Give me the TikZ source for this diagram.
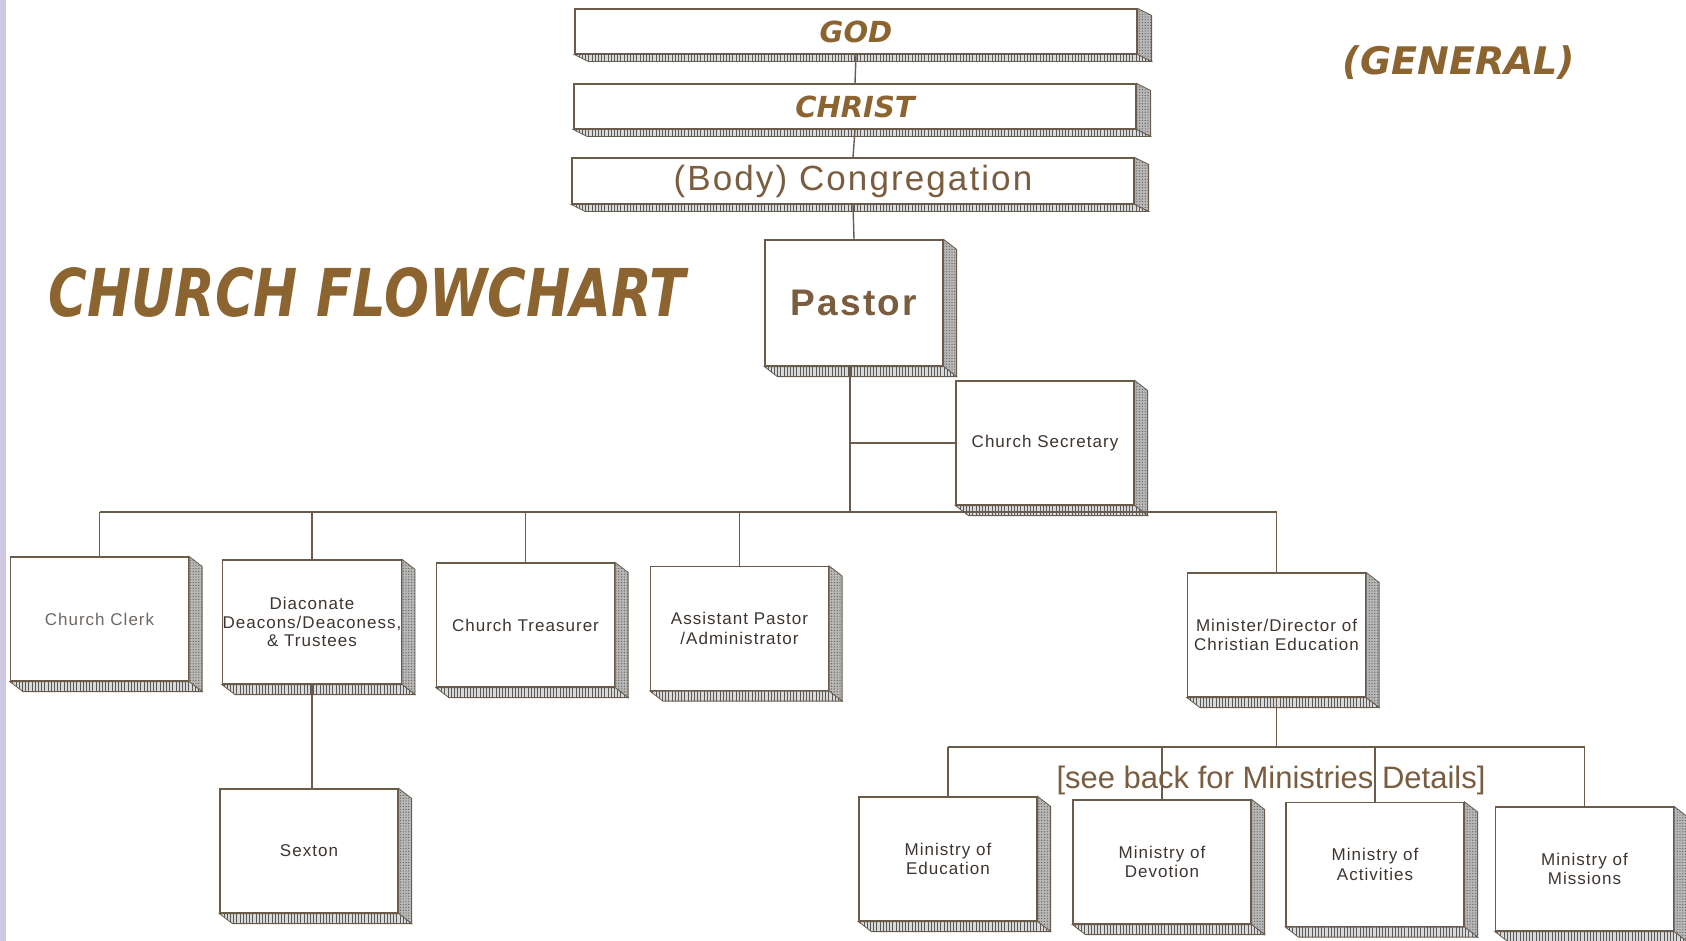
\documentclass[tikz,border=0pt]{standalone}
\usepackage{fontspec}
\setmainfont{Liberation Sans}
\newfontfamily\boxfont{Liberation Sans}[LetterSpace=6]
\newfontfamily\titlefont{DejaVu Sans}
\usetikzlibrary{calc,patterns.meta}

\definecolor{linecol}{HTML}{6B5B4A}
\definecolor{titlebrown}{HTML}{8C6430}
\definecolor{boxtext}{HTML}{3E3530}
\definecolor{congtext}{HTML}{7A5C3E}
\definecolor{stripcol}{HTML}{CEC8E0}

\tikzset{
	frontbox/.style={draw=linecol,fill=white,line width=0.6pt,inner sep=0pt,align=center,text=boxtext,font=\boxfont\fontsize{8.5}{9.7}\selectfont},
	smallbox/.style={frontbox,minimum width=89pt,minimum height=62pt},
	widebox/.style={frontbox,minimum width=281pt,minimum height=22.5pt},
	sideface/.style={draw=linecol,line width=0.4pt,fill=black!28,postaction={pattern={Dots[distance=1.4pt,radius=0.35pt]},pattern color=black!60}},
	bottomface/.style={draw=linecol,line width=0.4pt,fill=black!15,postaction={pattern={Lines[angle=90,distance=1.6pt,line width=0.45pt]},pattern color=black!65}},
	conn/.style={draw=linecol,line width=0.7pt},
}

\begin{document}
\begin{tikzpicture}[x=0.5pt,y=-0.5pt]
	\useasboundingbox (0,0) rectangle (1686,941);
	\fill[stripcol] (0,0) rectangle (6,941);

	% headings
	\node[text=titlebrown,font=\titlefont\bfseries\itshape\fontsize{33}{36}\selectfont,xscale=0.8] (title) at (367,292) {CHURCH FLOWCHART};
	\node[text=titlebrown,font=\titlefont\bfseries\itshape\fontsize{19}{22}\selectfont] (general) at (1459,63) {(GENERAL)};

	% top of the chart
	\node[widebox,text=titlebrown,font=\titlefont\bfseries\itshape\fontsize{14.5}{16}\selectfont] (god) at (856,31.5) {GOD};
	\node[widebox,text=titlebrown,font=\titlefont\bfseries\itshape\fontsize{14.5}{16}\selectfont] (christ) at (855,106.5) {CHRIST};
	\node[widebox,minimum height=23pt,text=congtext,font=\boxfont\fontsize{17.5}{20}\selectfont] (cong) at (853,181) {(Body) Congregation};
	\node[smallbox,minimum height=63pt,text=congtext,font=\boxfont\bfseries\fontsize{18.5}{22}\selectfont] (pastor) at (854,303) {Pastor};
	\node[smallbox] (secr) at (1045,443) {Church Secretary};

	% second row
	\node[smallbox,text=boxtext!75] (clerk) at (99.5,619) {Church Clerk};
	\node[smallbox,font=\boxfont\fontsize{8.5}{9.1}\selectfont] (diac) at (312,622) {Diaconate\\Deacons/Deaconess,\\\& Trustees};
	\node[smallbox] (treas) at (525.5,625) {Church Treasurer};
	\node[smallbox] (asst) at (739.5,628.5) {Assistant Pastor\\/Administrator};
	\node[smallbox] (mde) at (1276.5,635) {Minister/Director of\\Christian Education};
	\node[smallbox] (sexton) at (309,851) {Sexton};

	% ministries
	\node[smallbox] (med) at (948,859) {Ministry of\\Education};
	\node[smallbox] (mdev) at (1162,862) {Ministry of\\Devotion};
	\node[smallbox] (mact) at (1375,864.5) {Ministry of\\Activities};
	\node[smallbox] (mmis) at (1584.5,869) {Ministry of\\Missions};

	% depth of the boxes
	\foreach \n in {god,christ,cong}{
		\draw[sideface] (\n.north east) -- ++(14,7) -- ($(\n.south east)+(14,7)$) -- (\n.south east) -- cycle;
		\draw[bottomface] (\n.south west) -- (\n.south east) -- ($(\n.south east)+(14,7)$) -- ($(\n.south west)+(14,7)$) -- cycle;
	}
	\foreach \n in {pastor,secr,clerk,diac,treas,asst,mde,sexton,med,mdev,mact,mmis}{
		\draw[sideface] (\n.north east) -- ++(13,10) -- ($(\n.south east)+(13,10)$) -- (\n.south east) -- cycle;
		\draw[bottomface] (\n.south west) -- (\n.south east) -- ($(\n.south east)+(13,10)$) -- ($(\n.south west)+(13,10)$) -- cycle;
	}

	% connectors
	\draw[conn] (god.south) -- (christ.north);
	\draw[conn] (christ.south) -- (cong.north);
	\draw[conn] (cong.south) -- (pastor.north);

	\coordinate (pbus) at (850,512);
	\coordinate (busL) at (99.5,512);
	\coordinate (busR) at (1276.5,512);
	\draw[conn] (pastor.south -| pbus) -- (pbus);
	\draw[conn] (pbus |- secr.west) -- (secr.west);
	\draw[conn] (busL) -- (busR);
	\foreach \n in {clerk,diac,treas,asst,mde}
		\draw[conn] (\n.north) -- (\n.north |- busL);
	\draw[conn] (diac.south) -- (diac.south |- sexton.north);

	\coordinate (mbusL) at (948,747);
	\coordinate (mbusR) at (1584.5,747);
	\draw[conn] (mde.south) -- (mde.south |- mbusL);
	\draw[conn] (mbusL) -- (mbusR);
	\foreach \n in {med,mdev,mact,mmis}
		\draw[conn] (\n.north) -- (\n.north |- mbusL);

	\node[text=congtext,font=\fontsize{15.5}{18}\selectfont] (seeback) at (1271,780) {[see back for Ministries Details]};
\end{tikzpicture}
\end{document}
